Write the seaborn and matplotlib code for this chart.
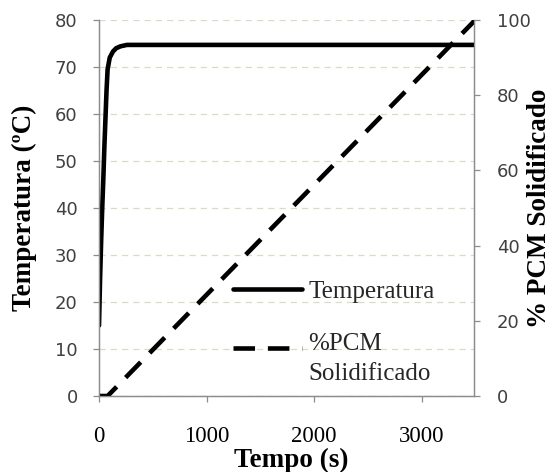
import matplotlib
matplotlib.use("Agg")
import matplotlib.pyplot as plt
import seaborn as sns
import pandas as pd
import numpy as np
from matplotlib.lines import Line2D

sns.set_style("white")
plt.rcParams['font.family'] = ['DejaVu Sans']

# data
t_temp = [0, 10, 20, 30, 40, 50, 60, 70, 80, 100, 130, 160, 200, 260, 350, 500, 1000, 2000, 3500]
temp = [15, 25, 33, 40, 46, 53, 59, 65, 69.5, 72, 73.3, 74.0, 74.4, 74.7, 74.7, 74.7, 74.7, 74.7, 74.7]
t_pcm = [0, 80, 3500]
pcm = [0, 0, 100]
xticks = [0, 1000, 2000, 3000]
yticks_left = [0, 10, 20, 30, 40, 50, 60, 70, 80]
yticks_right = [0, 20, 40, 60, 80, 100]

df_t = pd.DataFrame({"t": t_temp, "T": temp})
df_p = pd.DataFrame({"t": t_pcm, "P": pcm})

LW = 3.3
DASH = [4.7, 2.8]

fig = plt.figure(figsize=(5.55, 4.72), dpi=100)
ax = fig.add_axes([99/555, 1-396/472, (474-99)/555, (396-20)/472])
ax2 = ax.twinx()

sns.lineplot(data=df_t, x="t", y="T", ax=ax, color="black", linewidth=LW, zorder=5)
sns.lineplot(data=df_p, x="t", y="P", ax=ax2, color="black", linewidth=LW)
ax2.lines[0].set_dashes(DASH)
ax2.lines[0].set_dash_capstyle("butt")

ax.set_xlim(0, 3488)
ax.set_ylim(0, 80)
ax2.set_ylim(0, 100)
ax.set_xticks(xticks)
ax.set_yticks(yticks_left)
ax2.set_yticks(yticks_right)

ax.grid(axis="y", color="#dcd9c6", linestyle=(0, (5, 4)), linewidth=0.9)
ax.set_axisbelow(True)

for a in (ax, ax2):
    a.spines["top"].set_visible(False)
    for s in ["left", "right", "bottom"]:
        a.spines[s].set_color("#8c8c8c")
        a.spines[s].set_linewidth(0.9)

ax.tick_params(axis="y", direction="out", length=4.3, width=0.9, color="#8c8c8c",
               labelsize=13, labelcolor="#404040", left=True, pad=11)
ax2.tick_params(axis="y", direction="out", length=4.3, width=0.9, color="#8c8c8c",
                labelsize=13, labelcolor="#404040", right=True, pad=12)
ax.tick_params(axis="x", direction="out", length=4.3, width=0.9, color="#8c8c8c",
               bottom=True, pad=17)
for lbl in ax.get_xticklabels():
    lbl.set_fontfamily("Liberation Serif")
    lbl.set_fontsize(16.5)
    lbl.set_color("black")

lab = dict(fontfamily="Liberation Serif", fontweight="bold", fontsize=19.5, color="black")
ax.set_xlabel("Tempo (s)", **lab)
ax.set_ylabel("Temperatura (ºC)", **lab)
ax2.set_ylabel("% PCM Solidificado", **lab)
ax.xaxis.set_label_coords(0.512, -0.137)
ax.yaxis.set_label_coords(-0.165, 0.5)
ax2.yaxis.set_label_coords(1.141, 0.5)

handles = [Line2D([0], [0], color="black", linewidth=LW),
           Line2D([0], [0], color="black", linewidth=LW, dashes=DASH, dash_capstyle="butt")]
leg = ax2.legend(handles, ["Temperatura", "%PCM\nSolidificado"], loc="lower left",
                 bbox_to_anchor=(0.298, -0.03), frameon=False,
                 prop={"family": "Liberation Serif", "size": 18},
                 handlelength=2.76, handletextpad=0.25, labelspacing=1.2)
leg.get_texts()[1].set_linespacing(1.45)
h2 = leg.legend_handles[1]
h2.set_ydata(np.asarray(h2.get_ydata(), dtype=float) + 8)

fig.savefig("out.png", dpi=100)
